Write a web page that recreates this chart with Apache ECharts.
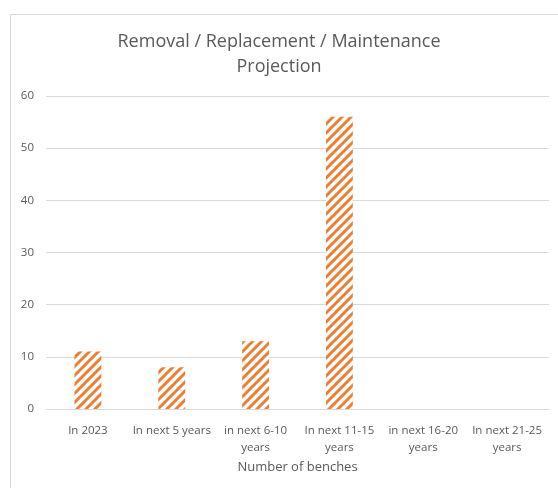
<!DOCTYPE html>
<html><head><meta charset="utf-8">
<script src="https://cdn.jsdelivr.net/npm/echarts@6/dist/echarts.min.js"></script>
<style>html,body{margin:0;padding:0;background:#fff}#c{width:558px;height:488px}</style>
</head><body><div id="c"></div>
<script>
var titleText = "Removal / Replacement / Maintenance\nProjection";
var categories = ["In 2023", "In next 5 years", "in next 6-10\nyears", "In next 11-15\nyears", "in next 16-20\nyears", "In next 21-25\nyears"];
var values = [11, 8, 13, 56, 0, 0];
var yTicks = { min: 0, max: 60, interval: 10 };
var xName = "Number of benches";

function hatch() {
  var c = document.createElement('canvas');
  var s = 9;
  c.width = s; c.height = s;
  var g = c.getContext('2d');
  g.fillStyle = '#ffffff';
  g.fillRect(0, 0, s, s);
  g.strokeStyle = '#ED7D31';
  g.lineWidth = 3;
  g.beginPath();
  for (var k = -1; k <= 1; k++) {
    g.moveTo(k * s - 2, s + 2);
    g.lineTo(k * s + s + 2, -2);
  }
  g.stroke();
  return c;
}

var font = '"Open Sans", "Noto Sans", sans-serif';
var chart = echarts.init(document.getElementById('c'), null, { renderer: 'canvas' });
chart.setOption({
  animation: false,
  backgroundColor: '#fff',
  graphic: [{
    type: 'rect', left: 8, top: 12, shape: { x: 0, y: 0, width: 560, height: 490 },
    style: { fill: 'none', stroke: '#d9d9d9', lineWidth: 1 }, silent: true, z: -1
  }],
  title: {
    text: titleText, left: 'center', top: 24,
    textStyle: { fontFamily: font, fontWeight: 'normal', fontSize: 18, color: '#595959', lineHeight: 25 }
  },
  grid: { left: 46, right: 9, top: 96, bottom: 79, containLabel: false },
  xAxis: {
    type: 'category', data: categories,
    name: xName, nameLocation: 'middle', nameGap: 50,
    nameTextStyle: { fontFamily: font, fontSize: 13, color: '#595959' },
    axisLine: { lineStyle: { color: '#d9d9d9', width: 1 } },
    axisTick: { show: false },
    axisLabel: { interval: 0, fontFamily: font, fontSize: 11.5, color: '#595959', lineHeight: 17, margin: 13 }
  },
  yAxis: {
    type: 'value', min: yTicks.min, max: yTicks.max, interval: yTicks.interval,
    axisLine: { show: false }, axisTick: { show: false },
    splitLine: { lineStyle: { color: '#d9d9d9', width: 1 } },
    axisLabel: { fontFamily: font, fontSize: 11.5, color: '#595959', margin: 12 }
  },
  series: [{
    type: 'bar', data: values, barWidth: '32%',
    itemStyle: { color: { image: hatch(), repeat: 'repeat' } }
  }]
});
</script></body></html>
